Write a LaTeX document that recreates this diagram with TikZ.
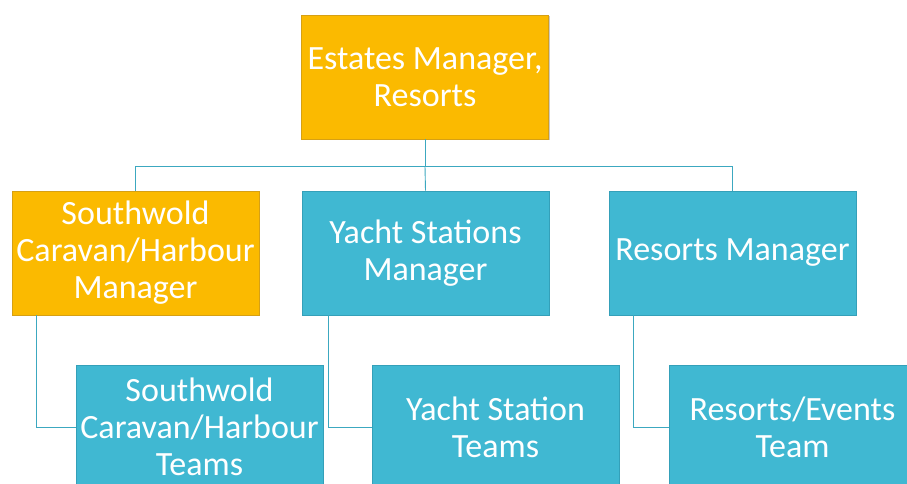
\documentclass[tikz,border=0pt]{standalone}
\usepackage{fontspec}
\setmainfont{Carlito}
\usetikzlibrary{shadows,calc}
\definecolor{gold}{RGB}{251,186,0}
\definecolor{goldline}{RGB}{214,160,20}
\definecolor{teal}{RGB}{64,184,210}
\definecolor{tealline}{RGB}{52,160,185}
\definecolor{linkc}{RGB}{60,168,192}
\tikzset{
  box/.style={rectangle, minimum width=247pt, minimum height=124pt, inner sep=0pt,
    text=white, align=center, font=\fontsize{34}{37}\selectfont,
    drop shadow={shadow xshift=1.2pt, shadow yshift=-1.2pt, opacity=0.35, fill=black!60}},
  goldbox/.style={box, fill=gold, draw=goldline, line width=0.6pt},
  tealbox/.style={box, fill=teal, draw=tealline, line width=0.6pt},
  link/.style={draw=linkc, line width=0.9pt}
}
\begin{document}
\begin{tikzpicture}[x=1pt, y=-1pt]
  \useasboundingbox (0,0) rectangle (907,483);
  \clip (0,0) rectangle (907,483);
  \fill[white] (0,0) rectangle (907,483);

  % top level
  \node[goldbox] (top) at (425,77) {Estates Manager,\\Resorts};

  % managers
  \node[goldbox] (sw) at (135.5,253) {Southwold\\Caravan/Harbour\\Manager};
  \node[tealbox] (ym) at (425.5,253) {Yacht Stations\\Manager};
  \node[tealbox] (rm) at (732.5,253) {Resorts Manager};

  % teams
  \node[tealbox] (swt) at (199.5,427) {Southwold\\Caravan/Harbour\\Teams};
  \node[tealbox] (yst) at (495.5,427) {Yacht Station\\Teams};
  \node[tealbox] (ret) at (792.5,427) {Resorts/Events\\Team};

  % bus from the top box to the managers
  \coordinate (bus) at ($(top.south)+(0,27)$);
  \path[link] (top.south) -- (bus) -| (sw.north);
  \path[link] (bus) -| (rm.north);
  \path[link] (bus) -- (ym.north);

  % managers to their teams
  \coordinate (swd) at ($(sw.south west)+(25,0)$);
  \coordinate (ymd) at ($(ym.south west)+(27,0)$);
  \coordinate (rmd) at ($(rm.south west)+(25,0)$);
  \path[link] (swd) |- (swt.west);
  \path[link] (ymd) |- (yst.west);
  \path[link] (rmd) |- (ret.west);
\end{tikzpicture}
\end{document}
